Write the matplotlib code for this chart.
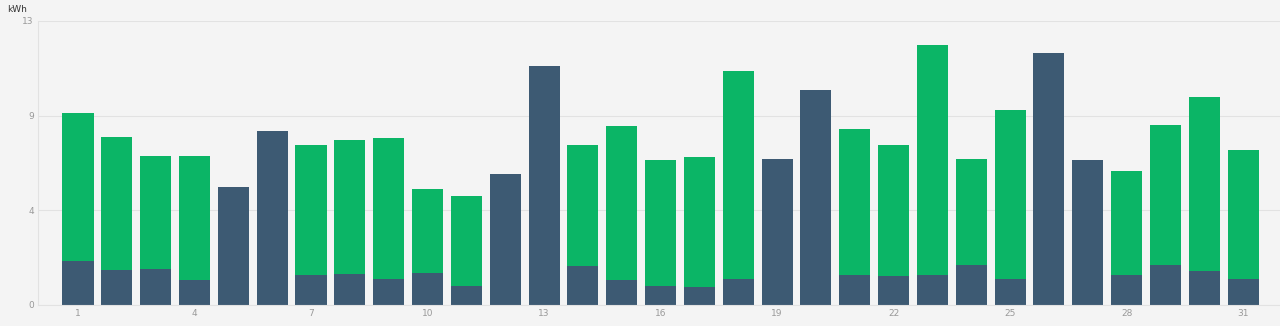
import numpy as np
import matplotlib.pyplot as plt

# 每日用电量 (kWh)
days = list(range(1, 32))
dark = [2.03, 1.60, 1.63, 1.14, 5.41, 7.98, 1.39, 1.42, 1.20, 1.48,
        0.87, 6.00, 10.94, 1.78, 1.14, 0.87, 0.81, 1.20, 6.67, 9.84,
        1.39, 1.33, 1.39, 1.82, 1.20, 11.55, 6.64, 1.39, 1.85, 1.57, 1.20]
total = [8.80, 7.70, 6.82, 6.82, 5.41, 7.98, 7.31, 7.55, 7.64, 5.32,
         4.99, 6.00, 10.94, 7.34, 8.19, 6.64, 6.79, 10.72, 6.67, 9.84,
         8.07, 7.31, 11.90, 6.67, 8.92, 11.55, 6.64, 6.15, 8.22, 9.50, 7.09]
green = [t - d for t, d in zip(total, dark)]
x_ticks = days[::3]
y_max = 13

bg = '#f4f4f4'
fig = plt.figure(figsize=(12.8, 3.26), dpi=100, facecolor=bg)
ax = fig.add_axes([38 / 1280, 21 / 326, 1242 / 1280, 284 / 326], facecolor=bg)

x = np.arange(len(days))
ax.bar(x, dark, width=0.8, color='#3d5a73', zorder=2)
ax.bar(x, green, width=0.8, bottom=dark, color='#0bb566', zorder=2)

ax.set_xlim(-1.03, len(days) - 0.05)
ax.set_ylim(0, y_max)

yt = np.linspace(0, y_max, 4)
ax.set_yticks(yt)
ax.set_yticklabels([f'{v:.0f}' for v in yt])
ax.set_xticks([d - 1 for d in x_ticks])
ax.set_xticklabels([str(d) for d in x_ticks])
ax.tick_params(axis='both', length=0, labelsize=6.5, colors='#999999', pad=3)

ax.grid(axis='y', color='#e2e2e2', linewidth=0.8, zorder=0)
for s in ['top', 'right']:
    ax.spines[s].set_visible(False)
for s in ['left', 'bottom']:
    ax.spines[s].set_color('#e2e2e2')
    ax.spines[s].set_linewidth(0.8)

fig.text(7 / 1280, 1 - 9 / 326, 'kWh', fontsize=6.5, color='#333333', va='center', ha='left')

plt.savefig('out.png', dpi=100, facecolor=bg)
